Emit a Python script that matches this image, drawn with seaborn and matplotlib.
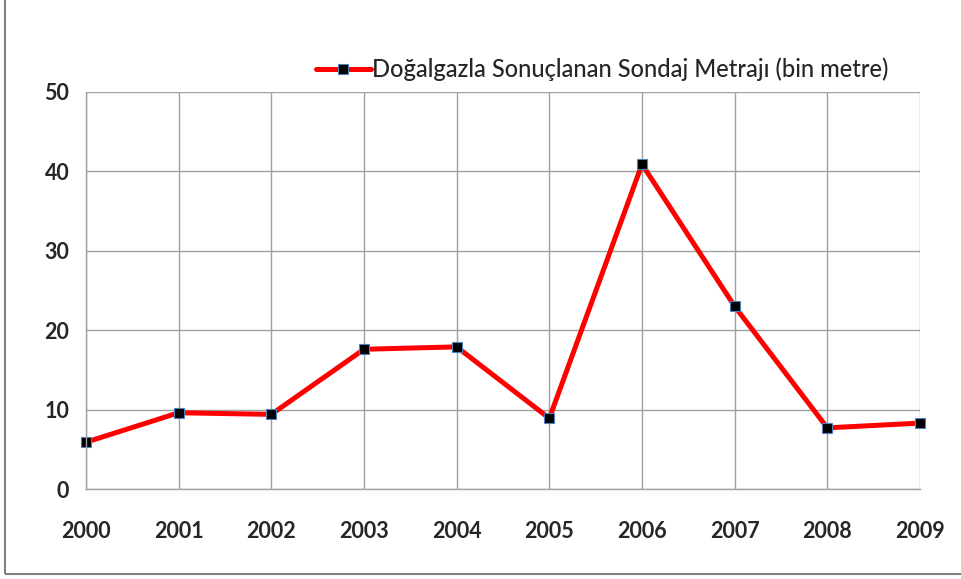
import pandas as pd
import seaborn as sns
import matplotlib.pyplot as plt
from matplotlib.patches import Rectangle

years = [2000, 2001, 2002, 2003, 2004, 2005, 2006, 2007, 2008, 2009]
metraj = [5.9, 9.6, 9.4, 17.6, 17.9, 8.9, 40.9, 23.0, 7.7, 8.3]
series_name = 'Doğalgazla Sonuçlanan Sondaj Metrajı (bin metre)'

sns.set_style('white')
plt.rcParams['font.family'] = ['Lato', 'DejaVu Sans']

data = pd.DataFrame({'Yıl': years, 'Metraj': metraj})

fig = plt.figure(figsize=(9.61, 5.79), dpi=100)
ax_ = fig.add_axes([86 / 961, 1 - 489 / 579, (920 - 86) / 961, (489 - 92) / 579])

sns.lineplot(
    data=data,
    x='Yıl',
    y='Metraj',
    ax=ax_,
    color='#ff0000',
    linewidth=3.6,
    marker='s',
    markersize=7.5,
    markerfacecolor='black',
    markeredgecolor='#4f81bd',
    markeredgewidth=0.8,
    label=series_name,
    clip_on=False,
    )

ax_.set_xlim(2000, 2009)
ax_.set_ylim(0, 50)
ax_.set_xticks(years)
ax_.set_yticks(range(0, 51, 10))
ax_.set_xlabel('')
ax_.set_ylabel('')

ax_.grid(True, color='#a0a0a0', linewidth=1)
ax_.set_axisbelow(True)
for side in ['top', 'right']:
    ax_.spines[side].set_visible(False)
for side in ['left', 'bottom']:
    ax_.spines[side].set_color('#a0a0a0')
    ax_.spines[side].set_linewidth(1)

ax_.tick_params(axis='both', which='both', direction='out', length=6,
                color='#a0a0a0', width=1, labelsize=15.5)
ax_.tick_params(axis='x', pad=17)
ax_.tick_params(axis='y', pad=6)
for lbl in ax_.get_xticklabels() + ax_.get_yticklabels():
    lbl.set_fontweight('bold')

leg = ax_.legend(
    loc='lower right',
    bbox_to_anchor=(900 / 961, 1 - 93 / 579),
    bbox_transform=fig.transFigure,
    frameon=False,
    fontsize=17,
    handlelength=2.3,
    handletextpad=0.05,
    borderpad=0,
    )
for txt in leg.get_texts():
    txt.set_fontweight('medium')

fig.patches.append(Rectangle(
    (5 / 961, 5 / 579), 1.2, 1.2,
    transform=fig.transFigure, fill=False,
    edgecolor='#808080', linewidth=1.5, figure=fig,
    ))

plt.savefig('out.png', dpi=100)
